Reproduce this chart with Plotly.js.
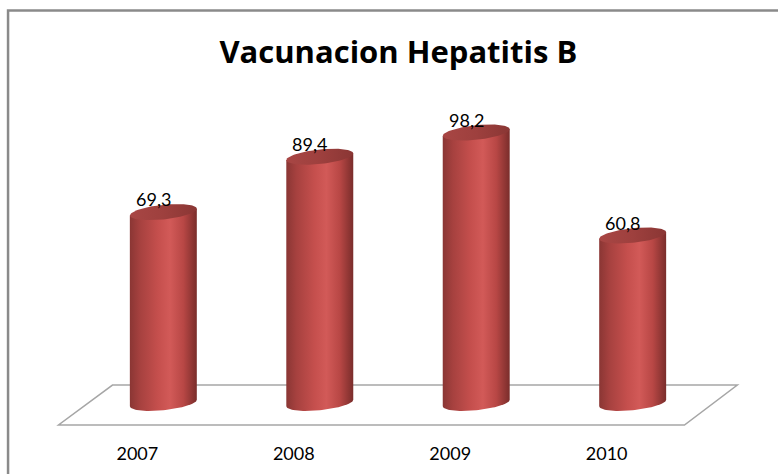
<!DOCTYPE html>
<html>
<head>
<meta charset="utf-8">
<script src="https://cdn.plot.ly/plotly-3.0.1.min.js"></script>
<style>html,body{margin:0;padding:0;background:#fff;}#chart{width:778px;height:474px;}</style>
</head>
<body>
<div id="chart"></div>
<script>
// ---- data ----
const years = ['2007', '2008', '2009', '2010'];
const values = [69.3, 89.4, 98.2, 60.8];
const chartTitle = 'Vacunacion Hepatitis B';

// ---- cylinder geometry (in axis units) ----
const R = 0.214;   // horizontal radius (x units)
const RY = 2.65;   // vertical radius of ellipse (y units)
const S = 1.2;     // tilt of ellipse
const N = 48;

const bodyScale = [[0, '#8a3634'], [0.15, '#a6413f'], [0.42, '#c54f4d'], [0.6, '#d25a58'], [0.8, '#b84745'], [1, '#7a2d2b']];
const topScale = [[0, '#a84644'], [0.5, '#9e403e'], [1, '#8a3634']];

const traces = [];
values.forEach((v, i) => {
  const xc = i;
  // body
  const bx = [xc - R, xc + R], by = [v - S, v + S];
  for (let k = 0; k <= N; k++) {
    const t = -Math.PI * k / N;
    bx.push(xc + R * Math.cos(t));
    by.push(RY * Math.sin(t) + S * Math.cos(t));
  }
  bx.push(xc - R); by.push(v - S);
  traces.push({
    type: 'scatter', mode: 'lines', x: bx, y: by, fill: 'toself',
    fillcolor: '#c0504d', fillgradient: {type: 'horizontal', colorscale: bodyScale},
    line: {width: 0, color: 'rgba(0,0,0,0)'}, hoverinfo: 'skip', showlegend: false
  });
  // top ellipse
  const tx = [], ty = [];
  for (let k = 0; k <= 2 * N; k++) {
    const t = Math.PI * k / N;
    tx.push(xc + R * Math.cos(t));
    ty.push(v + RY * Math.sin(t) + S * Math.cos(t));
  }
  traces.push({
    type: 'scatter', mode: 'lines', x: tx, y: ty, fill: 'toself',
    fillcolor: '#9e403e', fillgradient: {type: 'horizontal', colorscale: topScale},
    line: {width: 0, color: 'rgba(0,0,0,0)'}, hoverinfo: 'skip', showlegend: false
  });
});

const annotations = values.map((v, i) => ({
  x: i, y: v, xref: 'x', yref: 'y', text: v.toFixed(1).replace('.', ','),
  showarrow: false, yanchor: 'bottom', xanchor: 'center', xshift: -10, yshift: 0,
  font: {family: 'Lato, sans-serif', size: 18, color: '#000'}
}));

const layout = {
  width: 778, height: 474,
  margin: {l: 45.5, r: 27.5, t: 100, b: 38, pad: 0},
  paper_bgcolor: '#fff', plot_bgcolor: 'rgba(0,0,0,0)',
  separators: ',.',
  title: {
    text: chartTitle, x: 0.512, xanchor: 'center', y: 0.89, yanchor: 'middle', yref: 'container',
    font: {family: '"Open Sans", sans-serif', size: 31, color: '#000', weight: 'bold'}
  },
  xaxis: {
    range: [-0.75, 3.75], tickvals: [0, 1, 2, 3], ticktext: years,
    showgrid: false, zeroline: false, showline: false, ticks: '',
    ticklabelshift: -26, ticklabelstandoff: 5,
    tickfont: {family: 'Lato, sans-serif', size: 18, color: '#000'}, fixedrange: true
  },
  yaxis: {range: [-12, 110], visible: false, fixedrange: true},
  annotations: annotations,
  shapes: [
    {type: 'path', xref: 'x', yref: 'y', layer: 'below',
     path: 'M -0.67,-8 L 3.331,-8 L 3.669,6.5 L -0.325,6.5 Z',
     line: {color: '#a6a6a6', width: 1.5}, fillcolor: '#ffffff'},
    {type: 'path', xref: 'paper', yref: 'paper', layer: 'below',
     path: 'M -0.0539,-0.2 L -0.0539,1.2664 L 1.1,1.2664',
     line: {color: '#8a8a8a', width: 2.5}}
  ],
  showlegend: false
};

Plotly.newPlot('chart', traces, layout, {displayModeBar: false, staticPlot: true});
</script>
</body>
</html>
